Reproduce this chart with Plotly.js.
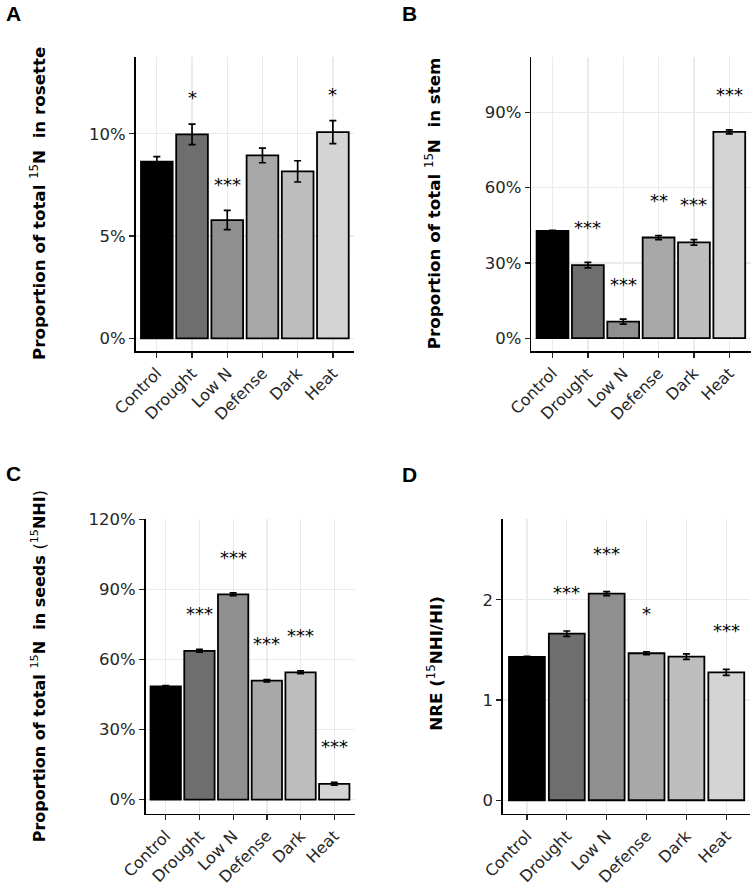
<!DOCTYPE html>
<html>
<head>
<meta charset="utf-8">
<script src="https://cdn.plot.ly/plotly-3.0.1.min.js"></script>
<style>html,body{margin:0;padding:0;background:#fff;}#chart{width:752px;height:883px;}</style>
</head>
<body>
<div id="chart"></div>
<script>
// ---- data ----
const categories = ['Control', 'Drought', 'Low N', 'Defense', 'Dark', 'Heat'];
const barColors = ['#000000', '#6e6e6e', '#8f8f8f', '#a8a8a8', '#bebebe', '#d4d4d4'];

const rosetteMean = [8.63, 9.97, 5.78, 8.94, 8.16, 10.08];
const rosetteSE   = [0.25, 0.50, 0.47, 0.36, 0.52, 0.56];
const rosetteSig  = ['', '*', '***', '', '', '*'];

const stemMean = [42.7, 29.1, 6.6, 40.1, 38.2, 82.2];
const stemSE   = [0.3, 1.1, 1.0, 0.8, 1.1, 0.8];
const stemSig  = ['', '***', '***', '**', '***', '***'];

const seedsMean = [48.6, 63.8, 88.0, 51.0, 54.6, 6.8];
const seedsSE   = [0.3, 0.6, 0.6, 0.5, 0.6, 0.6];
const seedsSig  = ['', '***', '***', '***', '***', '***'];

const nreMean = [1.429, 1.661, 2.060, 1.466, 1.432, 1.276];
const nreSE   = [0.005, 0.027, 0.020, 0.015, 0.027, 0.030];
const nreSig  = ['', '***', '***', '*', '', '***'];

const W = 752, H = 883;
const px = v => v / W;
const py = v => 1 - v / H;

const sup15 = '<span style="font-weight:normal"><sup>15</sup></span>';
const panels = [
  {mean: rosetteMean, se: rosetteSE, sig: rosetteSig, ax: '', box: [135.7, 354, 57, 351], yr: [-0.62, 13.75], dtick: 5, suffix: '%', sigOff: 1.35,
   title: 'Proportion of total ' + sup15 + 'N  in rosette', tsize: 16.7, tx: 38, ty: 204, letter: 'A', lx: 4, ly: 14},
  {mean: stemMean, se: stemSE, sig: stemSig, ax: '2', box: [531.3, 750.5, 57, 351], yr: [-5.1, 112], dtick: 30, suffix: '%', sigOff: 14.5,
   title: 'Proportion of total ' + sup15 + 'N  in stem', tsize: 16.7, tx: 432.7, ty: 203.5, letter: 'B', lx: 400, ly: 14},
  {mean: seedsMean, se: seedsSE, sig: seedsSig, ax: '3', box: [145.5, 354.5, 519, 813.7], yr: [-6.0, 120.3], dtick: 30, suffix: '%', sigOff: 16,
   title: 'Proportion of total ' + sup15 + 'N  in seeds <span style="font-weight:normal">(</span>' + sup15 + 'NHI<span style="font-weight:normal">)</span>', tsize: 16, tx: 38.3, ty: 666, letter: 'C', lx: 4, ly: 473},
  {mean: nreMean, se: nreSE, sig: nreSig, ax: '4', box: [503, 750.2, 519, 813.7], yr: [-0.134, 2.805], dtick: 1, suffix: '', sigOff: 0.4,
   title: 'NRE (' + sup15 + 'NHI/HI)', tsize: 16.7, tx: 434.3, ty: 663.5, letter: 'D', lx: 400, ly: 474}
];

const traces = [];
const annotations = [];
const layout = {
  width: W, height: H,
  margin: {l: 0, r: 0, t: 0, b: 0},
  paper_bgcolor: '#ffffff', plot_bgcolor: '#ffffff',
  showlegend: false,
  font: {family: 'DejaVu Sans', color: '#000'},
  annotations: annotations
};

panels.forEach(p => {
  const xa = 'x' + p.ax, ya = 'y' + p.ax;
  traces.push({
    type: 'bar', x: categories, y: p.mean, xaxis: xa, yaxis: ya, width: 0.9,
    marker: {color: barColors, line: {color: '#000000', width: 1.8}},
    error_y: {type: 'data', array: p.se, visible: true, color: '#000000', thickness: 1.7, width: 3.5},
    hoverinfo: 'skip'
  });
  layout['xaxis' + p.ax] = {
    domain: [px(p.box[0]), px(p.box[1])], anchor: ya,
    type: 'category', categoryorder: 'array', categoryarray: categories,
    range: [-0.6, 5.6], showline: true, linecolor: '#000', linewidth: 1.6,
    showgrid: true, gridcolor: '#ebebeb', gridwidth: 1.3,
    ticks: 'outside', ticklen: 5, tickwidth: 1.3, tickcolor: '#222',
    tickangle: -45, tickfont: {family: 'DejaVu Sans', size: 16, color: '#262626'},
    zeroline: false, fixedrange: true
  };
  layout['yaxis' + p.ax] = {
    domain: [py(p.box[3]), py(p.box[2])], anchor: xa,
    range: p.yr, dtick: p.dtick, tick0: 0, ticksuffix: p.suffix,
    showline: true, linecolor: '#000', linewidth: 1.6,
    showgrid: true, gridcolor: '#ebebeb', gridwidth: 1.3, zeroline: false,
    ticks: 'outside', ticklen: 5, tickwidth: 1.3, tickcolor: '#222',
    tickfont: {family: 'DejaVu Sans', size: 16.5, color: '#262626'}, fixedrange: true
  };
  // significance stars
  categories.forEach((c, i) => {
    if (!p.sig[i]) return;
    annotations.push({
      xref: xa, yref: ya, x: c, y: p.mean[i] + p.se[i] + p.sigOff,
      text: p.sig[i], showarrow: false, xanchor: 'center', yanchor: 'middle', yshift: -1.5,
      font: {family: 'DejaVu Sans', size: 18, color: '#000'}
    });
  });
  // y-axis title
  annotations.push({
    xref: 'paper', yref: 'paper', x: px(p.tx), y: py(p.ty), textangle: -90,
    text: p.title, showarrow: false, xanchor: 'center', yanchor: 'middle',
    font: {family: 'DejaVu Sans', size: p.tsize, color: '#000', weight: 'bold'}
  });
  // panel letter
  annotations.push({
    xref: 'paper', yref: 'paper', x: px(p.lx), y: py(p.ly),
    text: '<b>' + p.letter + '</b>', showarrow: false, xanchor: 'left', yanchor: 'middle',
    font: {family: 'Liberation Sans', size: 21, color: '#000'}
  });
});

Plotly.newPlot('chart', traces, layout, {staticPlot: true, displayModeBar: false});
</script>
</body>
</html>
